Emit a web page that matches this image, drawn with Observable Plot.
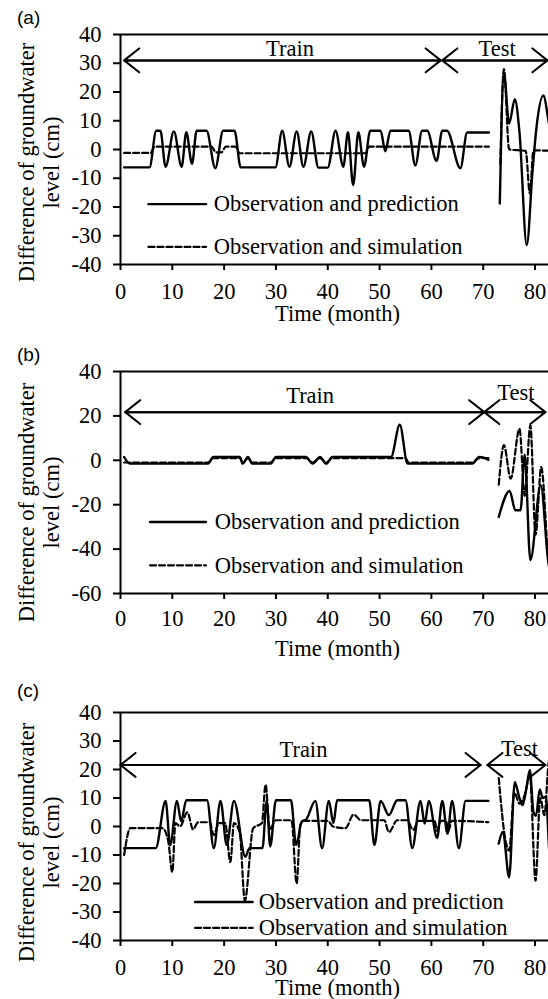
<!DOCTYPE html>
<html><head><meta charset="utf-8">
<script src="https://cdn.jsdelivr.net/npm/d3@7"></script>
<script src="https://cdn.jsdelivr.net/npm/@observablehq/plot@0.6"></script>
<style>
body{margin:0;background:#fff;width:548px;overflow:hidden}
.panel{position:relative;width:548px;overflow:hidden}
.panel svg{display:block}
.panel svg text{font-family:'Liberation Serif','Times New Roman',serif}
.lab{position:absolute;left:17px;font-family:"Liberation Sans",Arial,sans-serif;font-size:19px;line-height:1;color:#000}
</style></head><body>
<div id="pa" class="panel"><div class="lab" style="top:8px">(a)</div></div>
<div id="pb" class="panel"><div class="lab" style="top:15px">(b)</div></div>
<div id="pc" class="panel"><div class="lab" style="top:21px">(c)</div></div>
<script>
// ---- tick labels ----
const xTicks = [0, 10, 20, 30, 40, 50, 60, 70, 80];
const yTicksAC = [-40, -30, -20, -10, 0, 10, 20, 30, 40];
const yTicksB = [-60, -40, -20, 0, 20, 40];
const seriesNames = ["Observation and prediction", "Observation and simulation"];
const periodNames = ["Train", "Test"];

// ---- panel (a): [month, difference cm] ----
const aPredTrain = [[0.7,-6.2],[5.6,-6.2],[6.9,6.5],[7.7,6.5],[8.7,-6],[10.3,6.3],[11.8,-6],[12.7,6],[13.8,-5],[14.7,6.5],[16.6,6.5],[18.3,-6.5],[19.8,6.5],[22,6.5],[23.2,-6.2],[29.9,-6.2],[31.2,6.5],[32.6,-6],[34,6.3],[35.3,-6],[36.8,6.3],[38.2,-6.3],[40,-6.3],[41.5,6.5],[43,-6],[43.9,6],[44.9,-12.4],[45.9,6],[47,-6],[48.2,6.5],[50.2,6.5],[51.1,-0.6],[52.1,6.5],[55.6,6.5],[56.9,-5.5],[58.2,6.5],[59.2,6.5],[61,-4],[62.1,6.5],[63,6.5],[65.6,-6.5],[66.9,5.9],[71.1,5.9]];
const aSimTrain = [[0.7,-1.2],[5.8,-1.2],[6.6,1],[17.6,1],[18.4,-1],[19.5,-1],[20.3,1],[22.2,1],[23,-1.3],[47.3,-1.3],[48,1],[71.1,1]];
const aPredTest = [[73.2,-18.8],[74,26.5],[75,9],[76.1,17.5],[77,6],[78.4,-33.3],[79.5,-8],[80.3,8],[81.6,18.8],[82.7,9],[83.5,2]];
const aSimTest = [[73.3,-5],[74,28],[75,0],[78.2,-0.5],[79,-15.3],[79.7,-0.3],[83.5,-0.5]];

// ---- panel (b) ----
const bPredTrain = [[0.7,1.5],[1.8,-1.5],[16.9,-1.5],[17.9,1.5],[23,1.5],[23.6,-1.5],[24.6,1.5],[25.4,-1.5],[29,-1.5],[30,1.5],[35.8,1.5],[37.1,-1.5],[38.5,1.5],[39.7,-1.5],[40.9,1.5],[52.2,1.5],[53.9,16],[55.4,-1.5],[67.9,-1.5],[69.2,1.5],[70.1,1.2],[71,0.2]];
const bSimTrain = [[0.7,-1],[16.9,-1],[17.9,1],[23,1],[23.6,-1],[24.6,1],[25.4,-1],[29,-1],[30,1],[35.8,1],[37.1,-1],[38.5,1],[39.7,-1],[40.9,1],[55,1],[55.6,-1],[67.9,-1],[69.2,1],[71,1]];
const bPredTest = [[73,-25.5],[75.1,-13.8],[76.2,-22.5],[77.2,-22.5],[78,2.5],[79.1,-45],[81.1,-11.2],[82.6,-46.5],[83.2,-52]];
const bSimTest = [[73,-11],[74,6.8],[75.3,-8.3],[77,14.2],[78,-16],[79.1,15.7],[80.1,-33.5],[81.2,-3],[82.6,-45],[83.2,-52]];

// ---- panel (c) ----
const cPredTrain = [[0.7,-7.6],[6.8,-7.6],[8.7,9],[9.6,-6.5],[10.9,9],[11.7,1.8],[12.7,9.2],[16.7,9.2],[18,-7.6],[19.3,9],[20.5,-6.5],[21.9,9],[24.1,-10.6],[24.9,-7.6],[27.4,-7.6],[28.2,9],[28.9,-7],[30,9.2],[32.9,9.2],[33.9,-6.5],[35,1.8],[35.8,2.4],[37.6,9],[38.9,-7.6],[40.2,9],[41.1,1.2],[41.8,9.2],[48,9.2],[49,-6.5],[50.2,9],[51.8,4],[53.4,9.2],[55,9.2],[56.3,-7.6],[57.9,9],[58.7,1],[59.5,9],[61.1,-4],[62.1,9],[63.1,-2.5],[64,9],[65.3,-7.6],[66.6,9],[71,9]];
const cSimTrain = [[0.7,-10],[1.9,-0.6],[8.1,-0.6],[9.2,-5],[10,-16],[10.6,1.2],[11.5,0],[12.9,5],[14,-1],[15,1.5],[17.2,1.5],[18,-3],[19,1.2],[20.2,1.2],[21.2,-12.5],[21.9,1.2],[23,-2],[24,-26],[25.6,-0.6],[27.3,1.2],[28,14.7],[28.8,-1],[30,2.2],[33,2.2],[34,-20],[34.7,0.6],[35.5,2],[40,2],[41,0],[43.4,-0.6],[45,4.2],[46.4,2.2],[50.9,2.2],[51.8,-2],[53.4,2.2],[55.3,2.2],[56.5,-1.2],[57.5,2],[60.6,2],[61.1,-1.5],[61.8,2],[62.8,2],[63.3,-1.5],[63.9,2],[71,1.5]];
const cPredTest = [[73,-6],[73.8,-1.8],[75,-17.8],[76.1,15.5],[77,10],[77.6,7.5],[78.3,13],[79,19.8],[79.7,5],[80.2,3.8],[80.9,13],[81.5,10],[82.1,10.5],[82.8,-10],[83.3,-15]];
const cSimTest = [[73,17],[74.3,-4.9],[75,-8.5],[76,12],[77,8],[78,11],[79,18],[80.1,-19],[81,10],[81.8,4],[82.6,22],[83,26]];

const pts = arr => arr.map(([m, v]) => ({m, v}));
const FS = 22.5;
const FONT = "'Liberation Serif', 'Times New Roman', serif";

function panel(o) {
  const solid = {x: "m", y: "v", curve: "monotone-x", stroke: "#000", strokeWidth: 2.4, clip: true};
  const dashed = {...solid, strokeWidth: 2.2, strokeDasharray: "6,3"};
  const ar = {stroke: "#000", strokeWidth: 2, headLength: 14.4, headAngle: 77};
  const tx = {fontSize: FS, fontFamily: FONT, fill: "#000"};
  const [tr, te] = o.arrows;
  const marks = [
    Plot.ruleY([o.yDomain[1]], {stroke: "#000", strokeWidth: 2}),
    Plot.ruleY([o.yDomain[0]], {stroke: "#000", strokeWidth: 2}),
    Plot.ruleX([0], {stroke: "#000", strokeWidth: 2}),
    Plot.axisY({ticks: o.yTicks, tickSize: 7, tickPadding: 12, strokeWidth: 2, ...tx, label: null, tickFormat: d => String(d)}),
    Plot.axisX({ticks: xTicks, tickSize: 6, tickPadding: o.xPad, strokeWidth: 2, ...tx, label: null, tickFormat: d => String(d)}),
    Plot.line(pts(o.simTrain), dashed),
    Plot.line(pts(o.simTest), dashed),
    Plot.line(pts(o.predTrain), solid),
    Plot.line(pts(o.predTest), solid),
    // Train / Test double-headed arrows
    Plot.arrow([tr], {x1: d => d.a, x2: d => d.b, y1: d => d.y, y2: d => d.y, ...ar}),
    Plot.arrow([tr], {x1: d => d.b, x2: d => d.a, y1: d => d.y, y2: d => d.y, ...ar}),
    Plot.arrow([te], {x1: d => d.a, x2: d => d.b, y1: d => d.y, y2: d => d.y, ...ar}),
    Plot.arrow([te], {x1: d => d.b, x2: d => d.a, y1: d => d.y, y2: d => d.y, ...ar}),
    Plot.text([periodNames[0]], {x: () => tr.tx, y: () => tr.ty, ...tx, lineAnchor: "middle"}),
    Plot.text([periodNames[1]], {x: () => te.tx, y: () => te.ty, ...tx, lineAnchor: "middle"}),
    // legend
    Plot.line([{m: o.leg.x1, v: o.leg.y1}, {m: o.leg.x2, v: o.leg.y1}], {x: "m", y: "v", stroke: "#000", strokeWidth: 2.4}),
    Plot.line([{m: o.leg.x1, v: o.leg.y2}, {m: o.leg.x2, v: o.leg.y2}], {x: "m", y: "v", stroke: "#000", strokeWidth: 2.2, strokeDasharray: "6,3"}),
    Plot.text([seriesNames[0]], {x: () => o.leg.tx, y: () => o.leg.y1, textAnchor: "start", lineAnchor: "middle", ...tx}),
    Plot.text([seriesNames[1]], {x: () => o.leg.tx, y: () => o.leg.y2, textAnchor: "start", lineAnchor: "middle", ...tx}),
    // axis titles
    Plot.text(["Difference of groundwater\nlevel (cm)"], {frameAnchor: "left", rotate: -90, dx: -81.6, dy: o.yTitleDy, ...tx, lineHeight: 1.1, textAnchor: "middle", lineAnchor: "middle"}),
    Plot.text(["Time (month)"], {frameAnchor: "bottom", dx: 3, dy: o.xTitleDy, ...tx, lineAnchor: "middle"})
  ];
  const svg = Plot.plot({
    width: 548, height: o.height,
    marginLeft: 120, marginRight: 0, marginTop: o.mt, marginBottom: o.mb,
    x: {domain: [0, 82.6]},
    y: {domain: o.yDomain},
    style: {fontFamily: FONT, fontSize: FS + "px", color: "#000", background: "#fff", overflow: "hidden"},
    marks
  });
  document.getElementById(o.id).appendChild(svg);
}

panel({id: "pa", height: 330, mt: 34, mb: 66, yDomain: [-40, 40], yTicks: yTicksAC, xPad: 13,
  predTrain: aPredTrain, simTrain: aSimTrain, predTest: aPredTest, simTest: aSimTest,
  arrows: [{a: 0.7, b: 61.8, y: 31, tx: 32.7, ty: 35}, {a: 62.1, b: 82.4, y: 31, tx: 72.7, ty: 35}],
  leg: {x1: 5.4, x2: 16.5, tx: 18, y1: -19, y2: -33.9}, yTitleDy: 13, xTitleDy: 49});

panel({id: "pb", height: 330, mt: 41, mb: 67, yDomain: [-60, 40], yTicks: yTicksB, xPad: 11,
  predTrain: bPredTrain, simTrain: bSimTrain, predTest: bPredTest, simTest: bSimTest,
  arrows: [{a: 0.9, b: 70.2, y: 21.7, tx: 36.6, ty: 28.9}, {a: 70.2, b: 82, y: 21.7, tx: 76.3, ty: 30.4}],
  leg: {x1: 5.7, x2: 16.5, tx: 18.2, y1: -27.8, y2: -47.3}, yTitleDy: 20, xTitleDy: 55});

panel({id: "pc", height: 339, mt: 52, mb: 59, yDomain: [-40, 40], yTicks: yTicksAC, xPad: 13,
  predTrain: cPredTrain, simTrain: cSimTrain, predTest: cPredTest, simTest: cSimTest,
  arrows: [{a: 0, b: 69.5, y: 21.6, tx: 35.3, ty: 26.8}, {a: 70.8, b: 82, y: 21.6, tx: 77, ty: 27.2}],
  leg: {x1: 14.4, x2: 25.5, tx: 26.7, y1: -26.5, y2: -35.6}, yTitleDy: 16, xTitleDy: 47});
</script>
</body></html>
